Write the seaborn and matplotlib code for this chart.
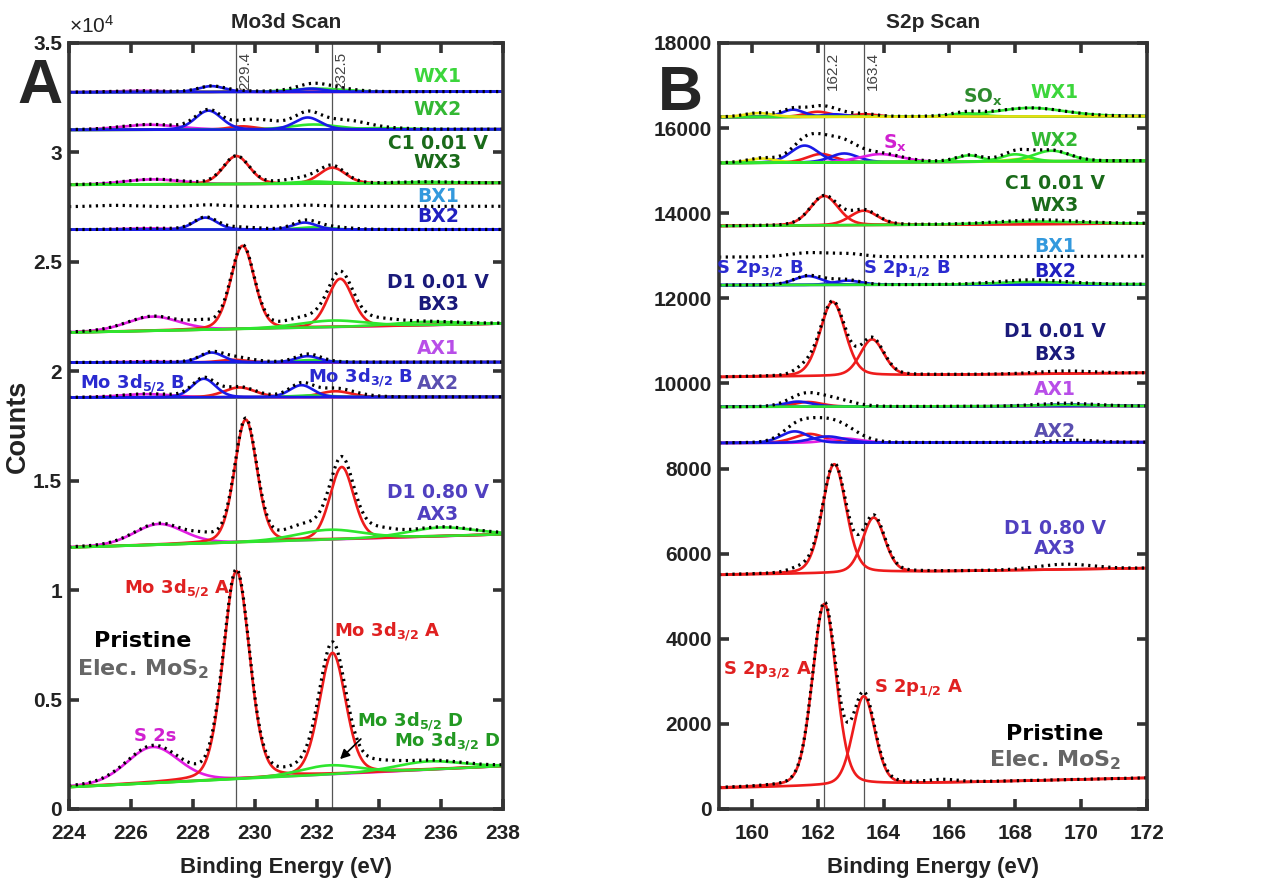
import numpy as np
import matplotlib
matplotlib.use("Agg")
import matplotlib.pyplot as plt
import seaborn as sns
from matplotlib import font_manager
from matplotlib.ticker import FuncFormatter

# ======================= DATA =======================
# Each fitted component: (component, centre [eV], height above background [counts], FWHM [eV])
# "extra" = features present in the measured (dotted) data but not in the fit.

# ---------- Panel A : Mo3d scan ----------
A_spectra     = ["WX1", "WX2", "WX3", "BX1", "BX2", "BX3", "AX1", "AX2", "AX3", "Pristine"]
A_bg_left     = [32750, 31030, 28520, 27520, 26470, 21770, 20400, 18800, 11950, 1000]
A_bg_right    = [32780, 31060, 28610, 27540, 26480, 22180, 20420, 18830, 12550, 1960]

A_WX1 = [("S2s", 226.3, 60, 2.0), ("MoA", 229.5, 40, 1.0), ("MoD", 232.0, 150, 2.0),
         ("MoB", 228.6, 270, 1.0), ("MoB", 231.8, 150, 1.0)]
A_WX2 = [("S2s", 226.6, 230, 2.2), ("MoA", 229.6, 150, 1.0), ("MoD", 231.9, 230, 1.8),
         ("MoD", 234.0, 60, 2.0), ("MoB", 228.5, 870, 1.0), ("MoB", 231.7, 550, 1.0)]
A_WX3 = [("S2s", 226.7, 230, 2.2), ("MoA", 229.4, 1280, 1.0), ("MoA", 232.5, 730, 1.0),
         ("MoD", 231.9, 100, 1.5), ("MoD", 235.5, 60, 2.0)]
A_BX1 = []
A_BX2 = [("S2s", 226.5, 60, 2.0), ("MoD", 231.9, 100, 1.2),
         ("MoB", 228.4, 550, 0.9), ("MoB", 231.6, 320, 0.9)]
A_BX3 = [("S2s", 226.7, 650, 2.0), ("MoA", 229.6, 3800, 0.9), ("MoA", 232.75, 2200, 0.95),
         ("MoD", 232.5, 300, 2.5), ("MoD", 235.5, 150, 2.5)]
A_AX1 = [("S2s", 226.5, 40, 2.0), ("MoA", 229.3, 120, 1.0), ("MoD", 231.8, 100, 1.2),
         ("MoB", 228.6, 450, 0.9), ("MoB", 231.7, 280, 0.9)]
A_AX2 = [("S2s", 226.5, 150, 2.0), ("MoA", 229.5, 450, 1.2), ("MoA", 232.6, 270, 1.2),
         ("MoD", 231.8, 80, 1.5), ("MoB", 228.35, 850, 0.9), ("MoB", 231.5, 550, 0.9)]
A_AX3 = [("S2s", 226.9, 950, 1.9), ("MoA", 229.7, 5600, 0.85), ("MoA", 232.8, 3300, 0.9),
         ("MoD", 232.4, 450, 2.5), ("MoD", 236.0, 400, 2.5)]
A_PRI = [("S2s", 226.7, 1650, 2.0), ("MoA", 229.4, 9500, 1.0), ("MoA", 232.5, 5550, 1.0),
         ("MoD", 232.4, 420, 2.2), ("MoD", 235.6, 380, 2.5)]

A_WX1_extra = [(232.3, 120, 1.5)]
A_WX2_extra = [(230.2, 350, 1.5), (233.0, 300, 1.5)]
A_WX3_extra = [(231.5, 150, 1.5)]
A_BX1_extra = [(225.5, 60, 1.5), (228.5, 80, 1.2), (231.7, 60, 1.2)]
A_BX2_extra = [(229.5, 100, 1.5), (232.5, 80, 1.5)]
A_BX3_extra = [(228.3, 250, 1.0), (231.5, 200, 1.2), (234.0, 150, 1.5)]
A_AX1_extra = [(229.6, 100, 1.2)]
A_AX2_extra = [(233.0, 100, 1.5)]
A_AX3_extra = [(228.4, 200, 1.0), (231.5, 300, 1.2), (234.0, 200, 1.2)]
A_PRI_extra = [(234.0, 200, 1.5)]

# ---------- Panel B : S2p scan ----------
B_spectra     = ["WX1", "WX2", "WX3", "BX1", "BX2", "BX3", "AX1", "AX2", "AX3", "Pristine"]
B_bg_left     = [16260, 15180, 13700, 12970, 12310, 10150, 9450, 8600, 5500, 490]
B_bg_right    = [16280, 15230, 13760, 12990, 12330, 10250, 9470, 8620, 5660, 730]

B_WX1 = [("SA", 162.0, 120, 0.9), ("SA", 163.4, 60, 0.9), ("SB", 161.25, 170, 0.8),
         ("SB", 162.5, 60, 0.9), ("SOx", 166.5, 80, 1.0), ("SOx", 168.45, 200, 2.5),
         ("Y", 160.2, 90, 1.0)]
B_WX2 = [("SA", 162.1, 200, 1.0), ("SB", 161.6, 400, 1.0), ("SB", 162.8, 210, 1.0),
         ("Sx", 163.9, 190, 1.5), ("Y", 160.3, 100, 1.0), ("Y", 168.2, 60, 1.0),
         ("SOx", 166.6, 150, 0.9), ("SOx", 168.0, 170, 1.0), ("SOx", 169.1, 250, 1.3)]
B_WX3 = [("SA", 162.2, 690, 1.0), ("SA", 163.4, 340, 1.0), ("SA", 169.0, 40, 2.5),
         ("SOx", 168.5, 60, 3.0)]
B_BX1 = []
B_BX2 = [("SB", 161.7, 210, 1.0), ("SB", 162.9, 100, 1.0), ("SB", 168.5, 50, 2.5),
         ("SOx", 168.5, 60, 2.5)]
B_BX3 = [("SA", 162.45, 1740, 0.9), ("SA", 163.65, 850, 0.85)]
B_AX1 = [("SA", 161.7, 110, 1.0), ("SB", 161.4, 120, 1.0), ("SB", 169.5, 40, 2.0),
         ("SOx", 169.5, 30, 2.0)]
B_AX2 = [("SA", 161.75, 210, 1.1), ("Sx", 162.8, 100, 1.2), ("SB", 161.3, 270, 1.0),
         ("SB", 162.3, 150, 1.2)]
B_AX3 = [("SA", 162.5, 2560, 0.85), ("SA", 163.7, 1290, 0.8)]
B_PRI = [("SA", 162.2, 4270, 0.85), ("SA", 163.4, 2080, 0.8)]

B_WX1_extra = [(162.2, 100, 1.2)]
B_WX2_extra = [(162.5, 250, 1.5)]
B_WX3_extra = []
B_BX1_extra = [(161.8, 100, 1.5), (163.0, 60, 1.0)]
B_BX2_extra = [(162.4, 40, 1.0)]
B_BX3_extra = [(161.6, 150, 0.7), (169.5, 60, 2.0)]
B_AX1_extra = [(162.3, 200, 1.5)]
B_AX2_extra = [(162.5, 250, 1.5), (169.8, 50, 1.5)]
B_AX3_extra = [(161.5, 100, 0.8), (169.5, 120, 2.0)]
B_PRI_extra = [(165.8, 60, 1.0)]

A_vlines = [229.4, 232.5]
B_vlines = [162.2, 163.4]
A_xticks = [224, 226, 228, 230, 232, 234, 236, 238]
A_yticks = [0, 5000, 10000, 15000, 20000, 25000, 30000, 35000]
B_xticks = [160, 162, 164, 166, 168, 170, 172]
B_yticks = [0, 2000, 4000, 6000, 8000, 10000, 12000, 14000, 16000, 18000]

A_fits   = [A_WX1, A_WX2, A_WX3, A_BX1, A_BX2, A_BX3, A_AX1, A_AX2, A_AX3, A_PRI]
A_extras = [A_WX1_extra, A_WX2_extra, A_WX3_extra, A_BX1_extra, A_BX2_extra,
            A_BX3_extra, A_AX1_extra, A_AX2_extra, A_AX3_extra, A_PRI_extra]
B_fits   = [B_WX1, B_WX2, B_WX3, B_BX1, B_BX2, B_BX3, B_AX1, B_AX2, B_AX3, B_PRI]
B_extras = [B_WX1_extra, B_WX2_extra, B_WX3_extra, B_BX1_extra, B_BX2_extra,
            B_BX3_extra, B_AX1_extra, B_AX2_extra, B_AX3_extra, B_PRI_extra]

# ======================= STYLE =======================
FIT_COLORS = {"MoA": "#ee1c1c", "MoB": "#1a1ae6", "MoD": "#2ee62e", "S2s": "#e21ee2",
              "SA": "#ee1c1c", "SB": "#1a1ae6", "SOx": "#2ee62e", "Sx": "#e21ee2",
              "Y": "#e8e010"}

sns.set_theme(style="ticks")
try:
    font_manager.findfont("Liberation Sans Narrow", fallback_to_default=False)
    TICKFAM = ["Liberation Sans Narrow", "Liberation Sans", "DejaVu Sans"]
except Exception:
    TICKFAM = ["Liberation Sans", "DejaVu Sans"]
plt.rcParams["font.family"] = ["DejaVu Sans"]
plt.rcParams["mathtext.default"] = "regular"
LABFAM = ["DejaVu Sans"]


def pv(x, c, h, w, eta=0.2):
    s = w / 2.3548
    g = np.exp(-0.5 * ((x - c) / s) ** 2)
    l = 1.0 / (1.0 + ((x - c) / (w / 2.0)) ** 2)
    return h * ((1 - eta) * g + eta * l)


def draw_panel(ax, xr, bgl, bgr, fits, extras):
    x = np.linspace(xr[0], xr[1], 500)
    for b0, b1, comps, extra in zip(bgl, bgr, fits, extras):
        bg = b0 + (b1 - b0) * (x - xr[0]) / (xr[1] - xr[0])
        total = bg.copy()
        for comp, c, h, w in comps:
            y = pv(x, c, h, w)
            total += y
            sns.lineplot(x=x, y=bg + y, ax=ax, color=FIT_COLORS[comp], lw=1.9,
                         sort=False, estimator=None, legend=False)
        for c, h, w in extra:
            total += pv(x, c, h, w, eta=0.0)
        sns.lineplot(x=x, y=total, ax=ax, color="black", lw=2.3,
                     linestyle=(0, (0.7, 1.4)), sort=False, estimator=None, legend=False)


fig = plt.figure(figsize=(12.82, 8.86), dpi=100)
axA = fig.add_axes([69 / 1282, 77 / 886, 434 / 1282, 766 / 886])
axB = fig.add_axes([719 / 1282, 77 / 886, 428 / 1282, 766 / 886])

draw_panel(axA, (224, 238), A_bg_left, A_bg_right, A_fits, A_extras)
draw_panel(axB, (159, 172), B_bg_left, B_bg_right, B_fits, B_extras)

axA.set_xlim(224, 238); axA.set_ylim(0, 35000)
axB.set_xlim(159, 172); axB.set_ylim(0, 18000)
axA.set_xticks(A_xticks); axA.set_yticks(A_yticks)
axB.set_xticks(B_xticks); axB.set_yticks(B_yticks)
axA.yaxis.set_major_formatter(FuncFormatter(lambda v, _: f"{v / 1e4:g}"))

for ax, vl, vy in ((axA, A_vlines, 32850), (axB, B_vlines, 16900)):
    for v in vl:
        ax.axvline(v, color="#555555", lw=0.9, zorder=0.5)
        ax.text(v + (0.07 if ax is axA else 0.06), vy, f"{v:g}", rotation=90,
                fontsize=11, color="#444444", ha="left", va="bottom", family=TICKFAM)
    for s in ax.spines.values():
        s.set_linewidth(2.6); s.set_color("#333333"); s.set_visible(True)
    ax.tick_params(direction="in", length=7, width=2.6, color="#333333",
                   top=True, right=True, labelsize=15)
    ax.tick_params(axis="x", pad=11)
    ax.tick_params(axis="y", pad=5)
    for lab in ax.get_xticklabels() + ax.get_yticklabels():
        lab.set_fontweight("bold"); lab.set_family(TICKFAM); lab.set_color("#222222")
    ax.set_xlabel("Binding Energy (eV)", fontsize=16, fontweight="bold",
                  family=TICKFAM, color="#222222", labelpad=10)
    ax.set_ylabel("")

axA.set_ylabel("Counts", fontsize=19.5, fontweight="bold", family=TICKFAM, color="#222222")
axA.yaxis.set_label_coords(-0.088, 0.5)
axA.set_title("Mo3d Scan", fontsize=15, fontweight="bold", family=TICKFAM, pad=11)
axB.set_title("S2p Scan", fontsize=15, fontweight="bold", family=TICKFAM, pad=11)
axA.text(0.0, 1.008, r"$\times10^4$", transform=axA.transAxes, fontsize=15,
         ha="left", va="bottom", family=TICKFAM, color="#222222")

fig.text(40 / 1282, 1 - 103 / 886, "A", fontsize=45, fontweight="bold",
         ha="center", va="baseline", family=TICKFAM)
fig.text(680 / 1282, 1 - 110 / 886, "B", fontsize=45, fontweight="bold",
         ha="center", va="baseline", family=TICKFAM)

# ---------- annotation text ----------
C = dict(wx1="#3cd63c", wx2="#33b833", wx3="#1a6b1a", bx1="#3399dd", bx2="#2020c0",
         bx3="#1a1a7a", ax1="#b84ee8", ax2="#5a4fb0", ax3="#5040c0", red="#e02020",
         blue="#2a2ad0", grey="#666666", mag="#d020d0", green="#229922", sox="#2e8b2e")


def lab(ax, x, y, s, col, size=13.5):
    ax.text(x, y, s, color=col, fontsize=size, fontweight="bold", ha="center",
            va="center", family=LABFAM)


xa = 235.9
lab(axA, xa, 33450, "WX1", C["wx1"])
lab(axA, xa, 31940, "WX2", C["wx2"])
lab(axA, xa, 30390, "C1 0.01 V", C["wx3"])
lab(axA, xa, 29520, "WX3", C["wx3"])
lab(axA, xa, 27970, "BX1", C["bx1"])
lab(axA, xa, 27060, "BX2", C["bx2"])
lab(axA, xa, 24050, "D1 0.01 V", C["bx3"])
lab(axA, xa, 23040, "BX3", C["bx3"])
lab(axA, xa, 21040, "AX1", C["ax1"])
lab(axA, xa, 19440, "AX2", C["ax2"])
lab(axA, xa, 14470, "D1 0.80 V", C["ax3"])
lab(axA, xa, 13460, "AX3", C["ax3"])
lab(axA, 226.06, 19440, r"Mo 3d$_{5/2}$ B", C["blue"], 13)
lab(axA, 233.4, 19710, r"Mo 3d$_{3/2}$ B", C["blue"], 13)
lab(axA, 227.5, 10080, r"Mo 3d$_{5/2}$ A", C["red"], 13)
lab(axA, 234.26, 8120, r"Mo 3d$_{3/2}$ A", C["red"], 13)
lab(axA, 226.39, 7670, "Pristine", "black", 16)
lab(axA, 226.39, 6390, r"Elec. MoS$_2$", C["grey"], 16)
lab(axA, 226.77, 3330, "S 2s", C["mag"], 13)
lab(axA, 235.0, 3970, r"Mo 3d$_{5/2}$ D", C["green"], 13)
lab(axA, 236.19, 3060, r"Mo 3d$_{3/2}$ D", C["green"], 13)
axA.annotate("", xy=(232.68, 2190), xytext=(233.48, 3290),
             arrowprops=dict(arrowstyle="-|>", color="black", lw=1.2, mutation_scale=14))

xb = 169.2
lab(axB, 167.02, 16730, r"SO$_x$", C["sox"])
lab(axB, xb, 16830, "WX1", C["wx1"])
lab(axB, 164.35, 15650, r"S$_x$", C["mag"])
lab(axB, xb, 15720, "WX2", C["wx2"])
lab(axB, xb, 14710, "C1 0.01 V", C["wx3"])
lab(axB, xb, 14170, "WX3", C["wx3"])
lab(axB, xb, 13210, "BX1", C["bx1"])
lab(axB, 160.25, 12690, r"S 2p$_{3/2}$ B", C["blue"], 13)
lab(axB, 164.71, 12690, r"S 2p$_{1/2}$ B", C["blue"], 13)
lab(axB, xb, 12640, "BX2", C["bx2"])
lab(axB, xb, 11210, "D1 0.01 V", C["bx3"])
lab(axB, xb, 10670, "BX3", C["bx3"])
lab(axB, xb, 9850, "AX1", C["ax1"])
lab(axB, xb, 8880, "AX2", C["ax2"])
lab(axB, xb, 6600, "D1 0.80 V", C["ax3"])
lab(axB, xb, 6110, "AX3", C["ax3"])
lab(axB, 160.46, 3270, r"S 2p$_{3/2}$ A", C["red"], 13)
lab(axB, 165.05, 2840, r"S 2p$_{1/2}$ A", C["red"], 13)
lab(axB, xb, 1760, "Pristine", "black", 16)
lab(axB, xb, 1150, r"Elec. MoS$_2$", C["grey"], 16)

fig.savefig("out.png", dpi=100, facecolor="white")
